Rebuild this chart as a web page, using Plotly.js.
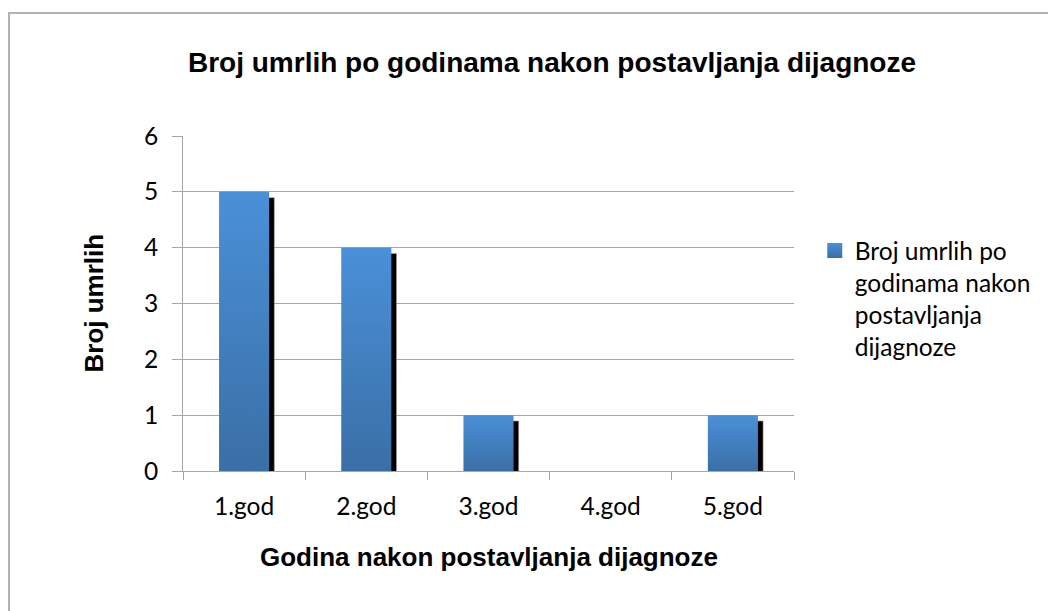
<!DOCTYPE html>
<html>
<head>
<meta charset="utf-8">
<script src="https://cdn.plot.ly/plotly-3.0.1.min.js"></script>
<style>
  html, body { margin: 0; padding: 0; background: #ffffff; }
  #wrap { position: relative; width: 1048px; height: 611px; overflow: hidden; }
  #frame { position: absolute; left: 8px; top: 12px; width: 1100px; height: 700px; border-left: 2px solid #b3b3b3; border-top: 2px solid #b3b3b3; box-sizing: border-box; pointer-events: none; z-index: 2; }
  #chart { position: absolute; left: 0; top: 0; width: 1048px; height: 611px; }
</style>
</head>
<body>
<div id="wrap">
  <div id="chart"></div>
  <div id="frame"></div>
</div>
<script>
// ---- data ----
var categories = ["1.god", "2.god", "3.god", "4.god", "5.god"];
var deaths = [5, 4, 1, 0, 1];
var seriesName = "Broj umrlih po<br>godinama nakon<br>postavljanja<br>dijagnoze";
var chartTitle = "Broj umrlih po godinama nakon postavljanja dijagnoze";
var xTitle = "Godina nakon postavljanja dijagnoze";
var yTitle = "Broj umrlih";
var yTicks = [0, 1, 2, 3, 4, 5, 6];

var barWidth = 0.41;
// shadow drawn behind each bar (styling only)
var shadowTrace = {
  type: "bar",
  x: categories,
  y: deaths.map(function (v) { return v > 0 ? v - 0.07 : 0; }),
  base: -0.035,
  width: barWidth,
  offset: -barWidth / 2 + 0.042,
  marker: { color: "#000000", line: { color: "#9a9a9a", width: 0.6 } },
  showlegend: false,
  hoverinfo: "skip"
};
var mainTrace = {
  type: "bar",
  x: categories,
  y: deaths,
  name: seriesName,
  width: barWidth,
  offset: -barWidth / 2,
  marker: { color: "#4483c5", line: { width: 0 } }
};

var titleFont = "Liberation Sans, Arial, sans-serif";
var bodyFont = "Lato, sans-serif";

var layout = {
  width: 1048,
  height: 611,
  paper_bgcolor: "#ffffff",
  plot_bgcolor: "#ffffff",
  margin: { l: 183, r: 254, t: 136, b: 140, pad: 0 },
  barmode: "overlay",
  showlegend: true,
  title: {
    text: "<b>" + chartTitle + "</b>",
    x: 552 / 1048, xref: "container", xanchor: "center",
    y: 1 - 62 / 611, yref: "container", yanchor: "middle",
    font: { family: titleFont, size: 28, color: "#000000" }
  },
  xaxis: {
    type: "category",
    categoryorder: "array",
    categoryarray: categories,
    range: [-0.5, 4.5],
    showline: true, linecolor: "#a6a6a6", linewidth: 1,
    showgrid: false, zeroline: false,
    ticks: "outside", tickson: "boundaries", ticklen: 8, tickcolor: "#a6a6a6", tickwidth: 1,
    ticklabelstandoff: 14,
    tickfont: { family: bodyFont, size: 24.5, color: "#000000" },
    fixedrange: true
  },
  yaxis: {
    range: [0, 6],
    tickvals: yTicks,
    showline: true, linecolor: "#a6a6a6", linewidth: 1,
    showgrid: true, gridcolor: "#a6a6a6", gridwidth: 1,
    zeroline: false,
    ticks: "outside", ticklen: 10, tickcolor: "#a6a6a6", tickwidth: 1,
    ticklabelstandoff: 9,
    tickfont: { family: bodyFont, size: 24.5, color: "#000000" },
    fixedrange: true
  },
  annotations: [
    {
      text: "<b>" + xTitle + "</b>",
      xref: "paper", yref: "paper",
      x: 0.5, y: -(557 - 471) / 335,
      xanchor: "center", yanchor: "middle",
      showarrow: false,
      font: { family: titleFont, size: 26, color: "#000000" }
    },
    {
      text: "<b>" + yTitle + "</b>",
      xref: "paper", yref: "paper",
      x: (93 - 183) / 611, y: 0.5,
      xanchor: "center", yanchor: "middle",
      textangle: -90,
      showarrow: false,
      font: { family: titleFont, size: 26, color: "#000000" }
    }
  ],
  legend: {
    x: 1.034, xanchor: "left",
    y: 0.725, yanchor: "top",
    valign: "top",
    bgcolor: "rgba(0,0,0,0)",
    font: { family: bodyFont, size: 24.5, color: "#000000" },
    itemclick: false, itemdoubleclick: false
  }
};

Plotly.newPlot("chart", [shadowTrace, mainTrace], layout, { displayModeBar: false, staticPlot: true }).then(function (gd) {
  // vertical blue gradient on the bars, like the original
  var svg = gd.querySelector("svg.main-svg");
  var ns = "http://www.w3.org/2000/svg";
  var defs = svg.querySelector("defs") || svg.insertBefore(document.createElementNS(ns, "defs"), svg.firstChild);
  var grad = document.createElementNS(ns, "linearGradient");
  grad.setAttribute("id", "barGrad");
  grad.setAttribute("x1", "0"); grad.setAttribute("y1", "0");
  grad.setAttribute("x2", "0"); grad.setAttribute("y2", "1");
  var s1 = document.createElementNS(ns, "stop");
  s1.setAttribute("offset", "0"); s1.setAttribute("stop-color", "#4a90d8");
  var s2 = document.createElementNS(ns, "stop");
  s2.setAttribute("offset", "1"); s2.setAttribute("stop-color", "#3a6fa6");
  grad.appendChild(s1); grad.appendChild(s2);
  defs.appendChild(grad);
  var traces = gd.querySelectorAll(".barlayer .trace");
  if (traces.length > 1) {
    traces[1].querySelectorAll("path").forEach(function (p) { p.style.fill = "url(#barGrad)"; });
  }
  var legendPts = gd.querySelectorAll(".legend .legendpoints path");
  legendPts.forEach(function (p) {
    p.setAttribute("d", "M7.5,7.5H-7.5V-7.5H7.5Z");
    p.style.fill = "url(#barGrad)";
  });
});
</script>
</body>
</html>
